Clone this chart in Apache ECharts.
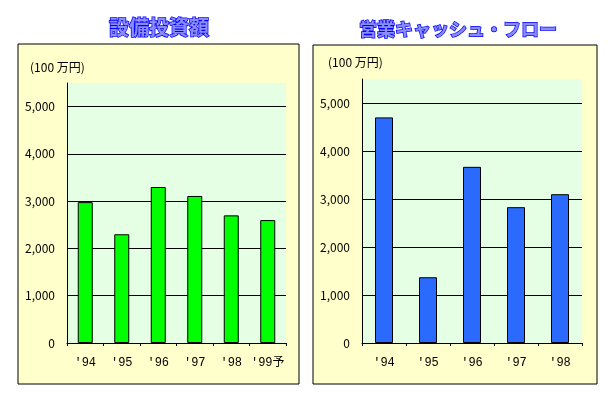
<!DOCTYPE html>
<html><head><meta charset="utf-8">
<script src="https://cdn.jsdelivr.net/npm/echarts@6/dist/echarts.min.js"></script>
<style>html,body{margin:0;padding:0;background:#fff}#c{width:615px;height:395px}</style>
</head><body><div id="c"></div>
<script>
const capexCategories = ["'94", "'95", "'96", "'97", "'98", "'99予"];
const capexValues = [2980, 2300, 3300, 3110, 2700, 2600];
const cashCategories = ["'94", "'95", "'96", "'97", "'98"];
const cashValues = [4700, 1370, 3670, 2830, 3100];
const yTicks = [0, 1000, 2000, 3000, 4000, 5000];
const titleLeft = '設備投資額';
const titleRight = '営業キャッシュ・フロー';
const unitLabel = '(100 万円)';

const font = "'Noto Sans CJK JP', sans-serif";
const monoFont = "'Liberation Mono', 'Noto Sans CJK JP', monospace";
const chart = echarts.init(document.getElementById('c'));
function yAxis(gi){
  return {
    type:'value', gridIndex:gi, min:0, max:5500, interval:1000,
    axisLine:{show:true, lineStyle:{color:'#000', width:1}},
    axisTick:{show:false},
    axisLabel:{show:true, color:'#000', fontFamily:font, fontSize:12, margin:12, showMaxLabel:false,
      formatter:v => yTicks.includes(v) ? v.toLocaleString('en-US') : ''},
    splitLine:{show:true, showMaxLine:false, lineStyle:{color:'#000', width:1}}
  };
}
function xAxis(gi, cats){
  return {
    type:'category', gridIndex:gi, data:cats,
    axisLine:{show:true, lineStyle:{color:'#000', width:1}},
    axisTick:{show:true, length:3, lineStyle:{color:'#000'}},
    axisLabel:{color:'#000', fontFamily:monoFont, fontSize:12, margin:14, interval:0}
  };
}
chart.setOption({
  animation:false,
  graphic:[
    {type:'rect', shape:{x:18, y:44, width:281, height:340}, style:{fill:'#ffffcc', stroke:'#000', lineWidth:1}, z:-10},
    {type:'rect', shape:{x:313, y:45, width:284, height:339}, style:{fill:'#ffffcc', stroke:'#000', lineWidth:1}, z:-10},
    {type:'text', left:30, top:61, style:{text:unitLabel, font:"12px " + font, fill:'#000'}},
    {type:'text', left:328, top:56, style:{text:unitLabel, font:"12px " + font, fill:'#000'}}
  ],
  title:[
    {text:titleLeft, left:154, top:12, textAlign:'center', textStyle:{fontFamily:font, fontSize:20, fontWeight:'bold', color:'#8c8cff', textBorderColor:'#0000ff', textBorderWidth:1.5}},
    {text:titleRight, left:453, top:15, textAlign:'center', textStyle:{fontFamily:font, fontSize:18, fontWeight:'bold', color:'#8c8cff', textBorderColor:'#0000ff', textBorderWidth:1.5}}
  ],
  grid:[
    {left:67, top:83, width:219, height:260, show:true, backgroundColor:'#e5ffe5', borderWidth:0},
    {left:362, top:79, width:220, height:264, show:true, backgroundColor:'#e5ffe5', borderWidth:0}
  ],
  xAxis:[xAxis(0, capexCategories), xAxis(1, cashCategories)],
  yAxis:[yAxis(0), yAxis(1)],
  series:[
    {type:'bar', xAxisIndex:0, yAxisIndex:0, data:capexValues, barWidth:15,
     itemStyle:{color:'#00ff00', borderColor:'#000', borderWidth:1}},
    {type:'bar', xAxisIndex:1, yAxisIndex:1, data:cashValues, barWidth:18,
     itemStyle:{color:'#2b6aff', borderColor:'#000', borderWidth:1}}
  ]
});
</script></body></html>
